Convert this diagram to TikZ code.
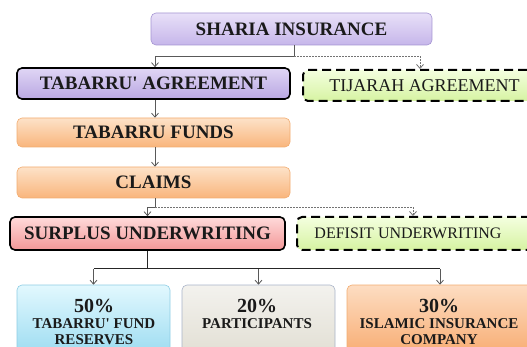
\documentclass[tikz,border=0pt]{standalone}
\usepackage{fontspec}
\setmainfont{Liberation Serif}
\usetikzlibrary{arrows.meta}
\definecolor{purpTop}{HTML}{E8E0F8}
\definecolor{purpBot}{HTML}{C6B6EA}
\definecolor{purpEdge}{HTML}{A494D2}
\definecolor{purp2Top}{HTML}{E0D6F5}
\definecolor{purp2Bot}{HTML}{B9A7E2}
\definecolor{greenTop}{HTML}{F4FFDF}
\definecolor{greenBot}{HTML}{D6F3A2}
\definecolor{peachTop}{HTML}{FDE2C8}
\definecolor{peachBot}{HTML}{F9B57C}
\definecolor{peachEdge}{HTML}{F2AC70}
\definecolor{pinkTop}{HTML}{FFDADA}
\definecolor{pinkBot}{HTML}{F39898}
\definecolor{blueTop}{HTML}{E2F8FE}
\definecolor{blueBot}{HTML}{9CDCF1}
\definecolor{blueEdge}{HTML}{8ECDE4}
\definecolor{greyTop}{HTML}{F3F2EE}
\definecolor{greyBot}{HTML}{E2DFD4}
\definecolor{greyEdge}{HTML}{A8B3C8}
\definecolor{oraTop}{HTML}{FDDDC2}
\definecolor{oraBot}{HTML}{F8AC72}
\definecolor{txt}{HTML}{1A1A1A}
\begin{document}
\begin{tikzpicture}[x=1pt,y=-1pt,
  box/.style={rectangle, rounded corners=5pt, inner sep=0pt, text=txt},
  thinbox/.style={box, line width=0.6pt},
  blackbox/.style={box, draw=black, line width=1.6pt},
  dashbox/.style={box, draw=black, line width=2pt, dash pattern=on 9pt off 5pt},
  lbl/.style={font=\bfseries\fontsize{19}{22}\selectfont},
  plain/.style={font=\fontsize{18}{21}\selectfont},
  conn/.style={draw=black!65, line width=0.8pt},
  arr/.style={conn, -{Straight Barb[length=4pt,width=7pt]}},
  dots/.style={draw=black!55, line width=0.8pt, dash pattern=on 1.5pt off 1.5pt, -{Straight Barb[length=4pt,width=7pt]}},
  pct/.style={text=txt, inner sep=0pt, align=center, anchor=north, font=\bfseries\fontsize{15}{15.5}\selectfont}
]
\useasboundingbox (0,0) rectangle (527,347);
\clip (0,0) rectangle (527,347);

\node[thinbox, draw=purpEdge, top color=purpTop, bottom color=purpBot, minimum width=281pt, minimum height=32pt, lbl] (sharia) at (291.5,29) {SHARIA INSURANCE};

\node[blackbox, top color=purp2Top, bottom color=purp2Bot, minimum width=273pt, minimum height=31pt, lbl] (tabagr) at (153.5,83.5) {TABARRU\textquotesingle{} AGREEMENT};

\node[dashbox, top color=greenTop, bottom color=greenBot, minimum width=243pt, minimum height=31pt, plain] (tijarah) at (424.5,85.5) {TIJARAH AGREEMENT};

\node[thinbox, draw=peachEdge, top color=peachTop, bottom color=peachBot, minimum width=273pt, minimum height=29pt, lbl] (funds) at (153.5,132.5) {TABARRU FUNDS};

\node[thinbox, draw=peachEdge, top color=peachTop, bottom color=peachBot, minimum width=273pt, minimum height=31pt, lbl] (claims) at (153.5,182.5) {CLAIMS};

\node[blackbox, top color=pinkTop, bottom color=pinkBot, minimum width=275pt, minimum height=33pt, lbl] (surplus) at (147.5,233.5) {SURPLUS UNDERWRITING};

\node[dashbox, top color=greenTop, bottom color=greenBot, minimum width=238pt, minimum height=33pt] (defisit) at (416,233.5) {};
\node[text=txt, font=\fontsize{16}{19}\selectfont] (defisittext) at (408,233.5) {DEFISIT UNDERWRITING};

\node[thinbox, draw=blueEdge, top color=blueTop, bottom color=blueBot, minimum width=153pt, minimum height=70pt] (res) at (93.5,320) {};
\node[thinbox, draw=greyEdge, top color=greyTop, bottom color=greyBot, minimum width=153pt, minimum height=70pt] (par) at (258.5,320) {};
\node[thinbox, draw=peachEdge, top color=oraTop, bottom color=oraBot, minimum width=186pt, minimum height=70pt] (com) at (440,320) {};

\node[pct] (restext) at (94,298.5) {{\fontsize{20}{20}\selectfont 50\%}\\[1pt]TABARRU\textquotesingle{} FUND\\RESERVES};
\node[pct] (partext) at (257,298.5) {{\fontsize{20}{20}\selectfont 20\%}\\[1pt]PARTICIPANTS};
\node[pct] (comtext) at (439,298.5) {{\fontsize{20}{20}\selectfont 30\%}\\[1pt]ISLAMIC INSURANCE\\COMPANY};

\draw[arr] ([xshift=2.5pt]sharia.south) -- ++(0,11) coordinate (s1) -| ([xshift=1.5pt]tabagr.north);
\draw[dots] (s1) -| ([xshift=-4.5pt]tijarah.north);
\draw[arr] ([xshift=1.5pt]tabagr.south) -- ([xshift=1.5pt]funds.north);
\draw[arr] ([xshift=1.5pt]funds.south) -- ([xshift=1.5pt]claims.north);
\draw[arr] ([xshift=1.5pt]claims.south) -- ++(0,9) coordinate (c1) -| (surplus.north);
\draw[dots] (c1) -| ([xshift=-3pt]defisit.north);
\draw[conn, draw=black!85, line width=1pt] (surplus.south) -- ++(0,18) coordinate (u1);
\draw[conn, draw=black!85, line width=1pt] (u1) -- (res.north |- u1) (u1) -- (com.north |- u1);
\draw[arr] (res.north |- u1) -- (res.north);
\draw[arr] (par.north |- u1) -- (par.north);
\draw[arr] (com.north |- u1) -- (com.north);
\end{tikzpicture}
\end{document}
